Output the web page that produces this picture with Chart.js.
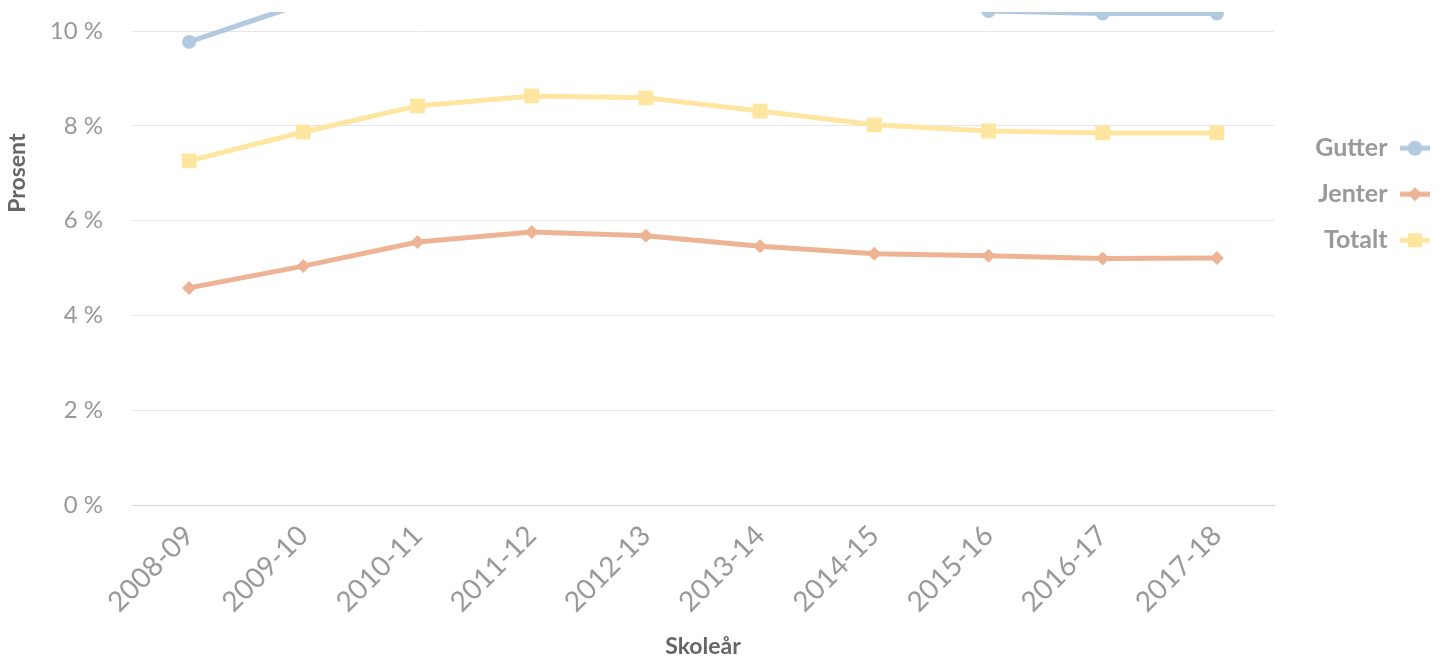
<!DOCTYPE html>
<html>
<head>
<meta charset="utf-8">
<script src="https://cdn.jsdelivr.net/npm/chart.js@4"></script>
<style>
  html, body { margin: 0; padding: 0; background: #fff; }
  #clip { position: absolute; left: 0; top: 12px; width: 1445px; height: 648px; overflow: hidden; }
  #box { position: absolute; left: 0; top: -214px; width: 1451px; height: 862px; }
</style>
</head>
<body>
<div id="clip"><div id="box"><canvas id="chart"></canvas></div></div>
<script>
const labels = ["2008-09", "2009-10", "2010-11", "2011-12", "2012-13", "2013-14", "2014-15", "2015-16", "2016-17", "2017-18"];
const gutter = [9.77, 10.58, 11.3, 11.5, 11.48, 11.15, 10.75, 10.42, 10.37, 10.37];
const jenter = [4.58, 5.04, 5.55, 5.76, 5.68, 5.46, 5.3, 5.26, 5.2, 5.21];
const totalt = [7.26, 7.87, 8.42, 8.63, 8.59, 8.31, 8.02, 7.89, 7.85, 7.85];
const yTicks = [0, 2, 4, 6, 8, 10, 12, 14];

const BLUE = "#b2cadf";
const SALMON = "#edb394";
const YELLOW = "#fee5a0";
const FONT = "Lato";

function legendIcon(color, shape) {
  const c = document.createElement("canvas");
  c.width = 30;
  c.height = 18;
  const g = c.getContext("2d");
  g.strokeStyle = color;
  g.fillStyle = color;
  g.lineWidth = 5;
  g.beginPath();
  g.moveTo(0, 9);
  g.lineTo(30, 9);
  g.stroke();
  g.beginPath();
  if (shape === "circle") {
    g.arc(15, 9, 7.5, 0, Math.PI * 2);
  } else if (shape === "diamond") {
    g.moveTo(15, 2); g.lineTo(22, 9); g.lineTo(15, 16); g.lineTo(8, 9);
    g.closePath();
  } else {
    g.rect(8, 2, 14, 14);
  }
  g.fill();
  return c;
}
const icons = [legendIcon(BLUE, "circle"), legendIcon(SALMON, "diamond"), legendIcon(YELLOW, "square")];

// legend box width is fixed so the plot ends where the original does
const legendWidth = {
  id: "legendWidth",
  beforeLayout(chart) {
    const leg = chart.legend;
    if (leg && !leg.fixedFit) {
      const fit = leg.fit;
      leg.fit = function () { fit.call(this); this.width = 177; };
      leg.fixedFit = true;
    }
  },
};

new Chart(document.getElementById("chart"), {
  type: "line",
  data: {
    labels: labels,
    datasets: [
      { label: "Gutter", data: gutter, borderColor: BLUE, backgroundColor: BLUE, pointStyle: "circle", pointRadius: 7 },
      { label: "Jenter", data: jenter, borderColor: SALMON, backgroundColor: SALMON, pointStyle: "rectRot", pointRadius: 7 },
      { label: "Totalt", data: totalt, borderColor: YELLOW, backgroundColor: YELLOW, pointStyle: "rect", pointRadius: 10.5 },
    ],
  },
  plugins: [legendWidth],
  options: {
    responsive: true,
    maintainAspectRatio: false,
    animation: false,
    layout: { padding: { top: 0, left: 0, right: 0, bottom: 0 } },
    elements: {
      line: { borderWidth: 5, tension: 0 },
      point: { borderWidth: 0, hoverRadius: 7 },
    },
    scales: {
      x: {
        offset: true,
        grid: { display: false },
        border: { display: true, color: "#ccd6eb", width: 1 },
        ticks: {
          color: "#999",
          font: { family: FONT, size: 28 },
          minRotation: 45,
          maxRotation: 45,
          padding: 6,
        },
        title: {
          display: true,
          text: "Skoleår",
          color: "#666",
          font: { family: FONT, size: 23, weight: "bold" },
          padding: { top: 0, bottom: 0 },
        },
        afterFit: (scale) => { scale.height = 155; },
      },
      y: {
        min: 0,
        max: 14,
        afterBuildTicks: (scale) => { scale.ticks = yTicks.map((v) => ({ value: v })); },
        grid: {
          color: (ctx) => (ctx.tick && ctx.tick.value === 0 ? "#ccd6eb" : "#e6e6e6"),
          drawTicks: false,
        },
        border: { display: false },
        ticks: {
          color: "#999",
          font: { family: FONT, size: 24 },
          padding: 29,
          callback: (v) => v + " %",
        },
        title: {
          display: true,
          text: "Prosent",
          color: "#666",
          font: { family: FONT, size: 23, weight: "bold" },
          padding: { top: 4, bottom: 0 },
        },
        afterFit: (scale) => { scale.width = 132; },
      },
    },
    plugins: {
      tooltip: { enabled: false },
      legend: {
        position: "right",
        fullSize: false,
        rtl: true,
        title: { display: true, text: " ", font: { size: 10 }, padding: { top: 30, bottom: 0 } },
        labels: {
          color: "#999",
          font: { family: FONT, size: 25, weight: "bold" },
          usePointStyle: true,
          pointStyleWidth: 30,
          padding: 21,
          generateLabels: (chart) =>
            chart.data.datasets.map((ds, i) => ({
              text: ds.label,
              pointStyle: icons[i],
              fillStyle: ds.borderColor,
              strokeStyle: ds.borderColor,
              lineWidth: 0,
              fontColor: "#999",
              hidden: false,
              datasetIndex: i,
            })),
        },
      },
    },
  },
});
</script>
</body>
</html>
